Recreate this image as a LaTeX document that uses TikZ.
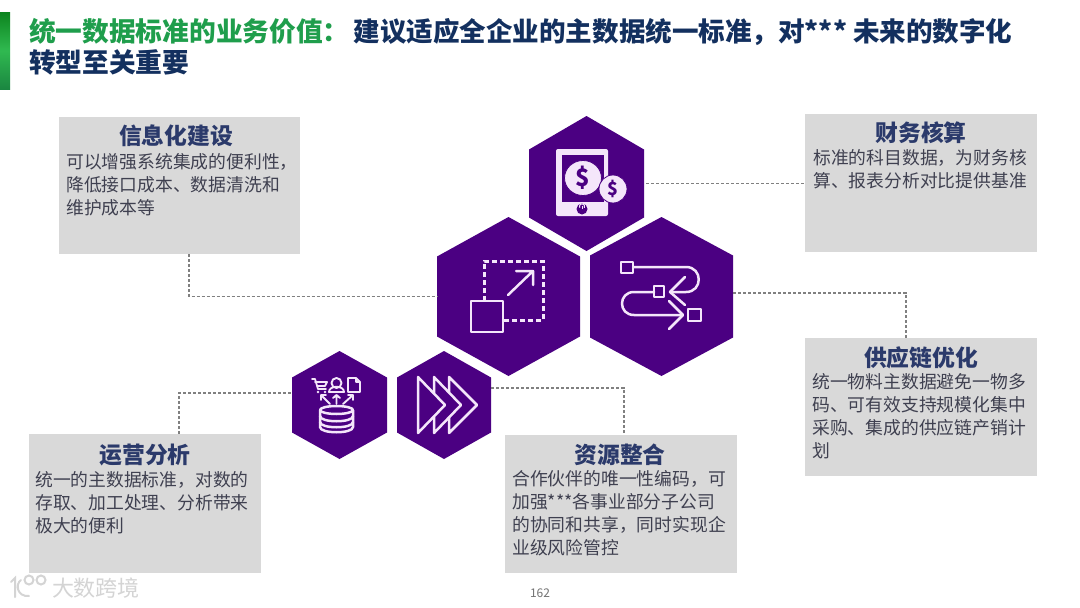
\documentclass[tikz,border=0pt]{standalone}
\usepackage{fontspec}
\setmainfont{Noto Sans CJK SC}
\usetikzlibrary{arrows.meta}
\definecolor{hexpurple}{HTML}{4B0082}
\definecolor{iconline}{HTML}{F4E6FA}
\definecolor{boxgray}{HTML}{D9D9D9}
\definecolor{headnavy}{HTML}{2B3A6B}
\definecolor{bodygray}{HTML}{3F4050}
\definecolor{titlegreen}{HTML}{1F9E4C}
\definecolor{titlenavy}{HTML}{13305F}
\definecolor{wm}{HTML}{D4D4D4}
\tikzset{
  infobox/.style={fill=boxgray,draw=none,inner sep=0pt,minimum width=232pt,minimum height=138pt},
  boxhead/.style={font=\fontsize{22.8}{25}\selectfont\bfseries,text=headnavy,inner sep=0pt},
  boxbody/.style={font=\fontsize{17.8}{23}\selectfont,text=bodygray,inner sep=0pt,align=left,anchor=north west},
  dashlink/.style={draw=black!50,line width=1.2pt,dash pattern=on 3pt off 2pt},
  icon/.style={draw=iconline,line width=2.5pt,line cap=round,line join=round},
  icondash/.style={draw=iconline,line width=3pt,dash pattern=on 5pt off 3pt},
  titletext/.style={font=\fontsize{26.7}{30}\selectfont\bfseries,inner sep=0pt,anchor=west},
}
\newcommand{\hexa}[6]{%
  \fill[hexpurple] ({#2},{#3-#5}) -- ({#2+#4},{#3-#6}) -- ({#2+#4},{#3+#6}) -- ({#2},{#3+#5}) -- ({#2-#4},{#3+#6}) -- ({#2-#4},{#3-#6}) -- cycle;
  \node[inner sep=0pt,minimum width={2*#4*1pt},minimum height={2*#6*1pt}] (#1) at (#2,#3) {};
}
\begin{document}
\begin{tikzpicture}[x=1pt,y=-1pt]
\useasboundingbox (0,0) rectangle (1080,608);
\fill[white] (0,0) rectangle (1080,608);
% green bar
\shade[top color=green!45!black!60!titlegreen,bottom color=titlegreen!85!black,middle color=titlegreen!80!green!90!white] (0,12) rectangle (10,89);
% title
\node[titletext] (t1) at (29,32) {\textcolor{titlegreen}{统一数据标准的业务价值：}\hspace{4pt}\textcolor{titlenavy}{\fontsize{26.55}{30}\selectfont 建议适应全企业的主数据统一标准，对*** 未来的数字化}};
\node[titletext,text=titlenavy] (t2) at (29,62) {转型至关重要};
% boxes
\node[infobox,minimum width=241pt,minimum height=137pt] (boxA) at (179.5,185.5) {};
\node[infobox] (boxB) at (921,183) {};
\node[infobox] (boxC) at (921,407) {};
\node[infobox,minimum height=139pt] (boxD) at (145,503.5) {};
\node[infobox] (boxE) at (621,504) {};
% hexagons
\hexa{hexT}{586.5}{183.5}{57.5}{67.5}{34}
\hexa{hexL}{508.5}{296.5}{71.5}{79.5}{40}
\hexa{hexR}{661.5}{296.5}{71.5}{79.5}{41}
\hexa{hexD}{339.5}{405}{47.5}{54}{27.5}
\hexa{hexF}{444}{405}{47}{54}{27.5}
% connectors
\draw[dashlink] ([xshift=9.5pt]boxA.south) |- (hexL.west);
\draw[dashlink] ([xshift=2pt]hexT.east) -- (boxB.west |- hexT.east);
\draw[dashlink] ([yshift=3.5pt]hexR.east) -| ([xshift=-15pt]boxC.north);
\draw[dashlink] ([xshift=34pt]boxD.north) |- ([yshift=12pt]hexD.west);
\draw[dashlink] ([yshift=17pt]hexF.east) -| ([xshift=3pt]boxE.north);
% box text
\node[boxhead] (hA) at (176,136) {信息化建设};
\node[boxbody] (bA) at (66,153.5) {可以增强系统集成的便利性，\\降低接口成本、数据清洗和\\维护成本等};
\node[boxhead] (hB) at (921,133) {财务核算};
\node[boxbody] (bB) at (813,149.5) {标准的科目数据，为财务核\\算、报表分析对比提供基准};
\node[boxhead] (hC) at (921,358) {供应链优化};
\node[boxbody] (bC) at (812,373.5) {统一物料主数据避免一物多\\码、可有效支持规模化集中\\采购、集成的供应链产销计\\划};
\node[boxhead] (hD) at (145,455) {运营分析};
\node[boxbody] (bD) at (35,471.5) {统一的主数据标准，对数的\\存取、加工处理、分析带来\\极大的便利};
\node[boxhead] (hE) at (620,455) {资源整合};
\node[boxbody] (bE) at (512,470.5) {合作伙伴的唯一性编码，可\\加强***各事业部分子公司\\的协同和共享，同时实现企\\业级风险管控};
% tablet icon
\fill[iconline,rounded corners=2pt] (556,149) rectangle (608,216);
\fill[hexpurple] (562,155) rectangle (604,202);
\fill[iconline,draw=hexpurple,line width=0.8pt] (583,178) ellipse (18.5 and 17.5);
\fill[iconline,draw=hexpurple,line width=0.8pt] (613,189) circle (14);
\node[inner sep=0pt,text=hexpurple,font=\fontsize{24}{24}\selectfont\bfseries] (d1) at (583,178) {\$};
\node[inner sep=0pt,text=hexpurple,font=\fontsize{18}{18}\selectfont\bfseries] (d2) at (613,189) {\$};
\fill[hexpurple] (582,209) circle (5.5);
\draw[iconline,line width=0.9pt] (579.8,207.8) arc (150:390:2.6);
\draw[iconline,line width=0.9pt] (582,205.8) -- (582,208.6);
% resize icon
\draw[icon,line cap=butt] (471,301) rectangle (503,332);
\draw[icondash] (484,301) -- (484,261) -- (543,261) -- (543,320) -- (503,320);
\draw[icon] (508,295) -- (533,271) (516,271) -- (533,271) -- (533,285);
% flow icon
\draw[icon,line cap=butt] (621,262) rectangle (633,273);
\draw[icon,line cap=butt] (654,286) rectangle (664,297);
\draw[icon,line cap=butt] (688,309) rectangle (701,321);
\draw[icon] (633,267) -- (686,267) .. controls (703,267) and (703,292) .. (686,292) -- (671,292);
\draw[icon] (685,277) -- (670,292) -- (685,305);
\draw[icon] (654,292) -- (634,292) .. controls (618,292) and (618,315) .. (634,315) -- (682,315);
\draw[icon] (669,301) -- (683,315) -- (669,329);
% database icon
\draw[icon,line width=1.8pt] (312,379) -- (315,379) -- (318,389) -- (326,389) (315,382) -- (327,382) -- (325,386) -- (317,386);
\fill[iconline] (318,392) circle (1.4) (325,392) circle (1.4);
\draw[icon,line width=1.9pt] (336.5,383) circle (5);
\draw[icon,line width=1.9pt] (329,392) .. controls (329,385) and (344,385) .. (344,392) -- cycle;
\draw[icon,line width=1.9pt] (348,378) -- (356,378) -- (360,382) -- (360,392) -- (348,392) -- cycle (356,378) -- (356,382) -- (360,382);
\draw[icon,line width=1.9pt] (330,404) -- (321,395) (321,400) -- (321,395) -- (326,395);
\draw[icon,line width=1.9pt] (336.5,404) -- (336.5,395) (333,398) -- (336.5,395) -- (340,398);
\draw[icon,line width=1.9pt] (343,404) -- (353,395) (348,395) -- (353,395) -- (353,400);
\draw[icon] (336.5,410) ellipse (16.5 and 4);
\draw[icon] (320,410) -- (320,427) .. controls (320,434) and (353,434) .. (353,427) -- (353,410);
\draw[icon] (320,416) .. controls (320,423) and (353,423) .. (353,416);
\draw[icon] (320,422) .. controls (320,429) and (353,429) .. (353,422);
% chevrons icon
\draw[icon,line cap=butt] (418,377) -- (445,405) -- (418,433) -- cycle;
\draw[icon,line cap=butt] (434,393) -- (434,377) -- (461,405) -- (434,433) -- (434,417);
\draw[icon,line cap=butt] (449,392) -- (449,377) -- (477,405) -- (449,433) -- (449,417);
% page number and watermark
\node[inner sep=0pt,text=black!55,font=\fontsize{12}{14}\selectfont] (pg) at (540,593) {162};
\node[inner sep=0pt,text=wm,font=\fontsize{22}{24}\selectfont] (wmk) at (96,588) {大数跨境};
\draw[wm,line width=2pt,line cap=round] (11,582) -- (15,578) -- (15,597) (21,580) .. controls (15,584) and (17,597) .. (29,596);
\draw[wm,line width=2pt] (29,580) circle (4.5) (41,580) circle (4.5);
\end{tikzpicture}
\end{document}
